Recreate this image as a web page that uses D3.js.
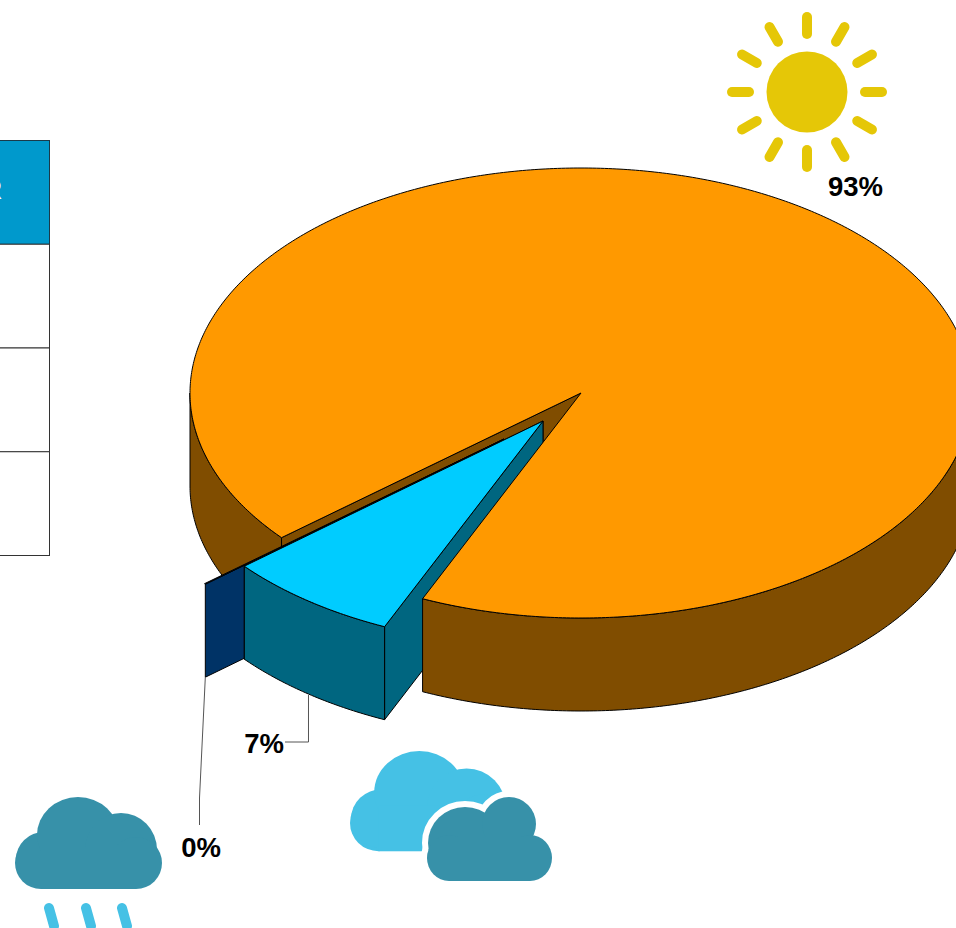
<!DOCTYPE html>
<html>
<head>
<meta charset="utf-8">
<script src="https://cdn.jsdelivr.net/npm/d3@7"></script>
<style>
  html, body { margin: 0; padding: 0; background: #fff; overflow: hidden; }
  svg { display: block; }
  text { font-family: "Liberation Sans", Arial, sans-serif; }
</style>
</head>
<body>
<div id="chart"></div>
<script>
// values, the labels round them
const categories = ["Partly cloudy", "Rainy", "Sunny"];
const shares = [7.2, 0.05, 92.8];
const tableHeader = "WEATHER";
const tableRows = ["", "", ""];

const width = 956;
const height = 928;

const topColors = ["#00ccff", "#003366", "#ff9900"];
const sideColors = ["#006680", "#003366", "#804d00"];

// pie centre, radii and depth of the extrusion
const cx = 581;
const cy = 393;
const rx = 391;
const ry = 225;
const depth = 93;

// how far each slice was pulled out of the pie
const explode = [
  { dx: -38, dy: 28 },
  { dx: -77, dy: 46 },
  { dx: 0, dy: 0 },
];

const x = d3.scaleLinear().domain([-1, 1]).range([cx - rx, cx + rx]);
const y = d3.scaleLinear().domain([-1, 1]).range([cy - ry, cy + ry]);

const svg = d3
  .select("#chart")
  .append("svg")
  .attr("width", width)
  .attr("height", height);

const startAngle = (203.9 * Math.PI) / 180;
const slices = d3
  .pie()
  .sort(null)
  .startAngle(startAngle)
  .endAngle(startAngle + 2 * Math.PI)(shares);

const line = d3.line();

// point on the rim of slice i, z is the drop below the top face
function rim(i, angle, z = 0) {
  return [
    x(Math.sin(angle)) + explode[i].dx,
    y(-Math.cos(angle)) + explode[i].dy + z,
  ];
}

function arcPoints(i, a0, a1, z = 0) {
  const n = Math.max(2, Math.ceil(Math.abs(a1 - a0) / 0.01));
  return d3.range(n + 1).map((k) => rim(i, a0 + ((a1 - a0) * k) / n, z));
}

function centre(i, z = 0) {
  return [x(0) + explode[i].dx, y(0) + explode[i].dy + z];
}

function drawShape(points, fill) {
  svg
    .append("path")
    .attr("d", line(points) + "Z")
    .attr("fill", fill)
    .attr("stroke", "#000")
    .attr("stroke-width", 1)
    .attr("stroke-linejoin", "round");
}

function outerWall(i, a0, a1) {
  const pts = arcPoints(i, a0, a1).concat(arcPoints(i, a1, a0, depth));
  drawShape(pts, sideColors[i]);
}

function radialWall(i, a) {
  drawShape(
    [centre(i), rim(i, a), rim(i, a, depth), centre(i, depth)],
    sideColors[i]
  );
}

function topFace(i) {
  const s = slices[i];
  drawShape(
    [centre(i)].concat(arcPoints(i, s.startAngle, s.endAngle)),
    topColors[i]
  );
}

// table, mostly off the left edge of the page
const rowHeight = 103.75;
const table = svg.append("g");
const rowY = d3
  .scaleLinear()
  .domain([0, tableRows.length + 1])
  .range([140.5, 140.5 + rowHeight * (tableRows.length + 1)]);

table
  .append("rect")
  .attr("x", -200)
  .attr("y", rowY(0))
  .attr("width", 249.5)
  .attr("height", rowHeight)
  .attr("fill", "#0099cc")
  .attr("stroke", "#1a3a4a")
  .attr("stroke-width", 1);

table
  .append("text")
  .attr("x", 2)
  .attr("y", rowY(0) + 58)
  .attr("text-anchor", "end")
  .attr("fill", "#fff")
  .attr("font-size", 28)
  .attr("font-weight", "bold")
  .text(tableHeader);

table
  .selectAll("rect.row")
  .data(tableRows)
  .enter()
  .append("rect")
  .attr("class", "row")
  .attr("x", -200)
  .attr("y", (d, i) => rowY(i + 1))
  .attr("width", 249.5)
  .attr("height", rowHeight)
  .attr("fill", "#fff")
  .attr("stroke", "#333")
  .attr("stroke-width", 1);

// painter's order, back to front
const [cloudy, rainy, sunny] = slices;
const sunnyEnd = sunny.endAngle;

outerWall(2, sunny.startAngle, (3 * Math.PI) / 2);
radialWall(2, sunny.startAngle);

radialWall(1, rainy.startAngle);
topFace(1);

radialWall(0, cloudy.endAngle);
radialWall(0, cloudy.startAngle);
outerWall(0, cloudy.startAngle, cloudy.endAngle);
topFace(0);

outerWall(2, Math.PI / 2, sunnyEnd - 2 * Math.PI);
topFace(2);

// leader lines
const leader = svg
  .append("g")
  .attr("fill", "none")
  .attr("stroke", "#555")
  .attr("stroke-width", 1);
const cloudyLeader = rim(0, (cloudy.startAngle + cloudy.endAngle) / 2, depth);
leader.append("path").attr(
  "d",
  line([
    [cloudyLeader[0], cloudyLeader[1] + 1],
    [cloudyLeader[0], 742],
    [285, 742],
  ])
);
const rainyLeader = rim(1, rainy.startAngle, depth);
leader.append("path").attr(
  "d",
  line([rainyLeader, [199.5, 798], [199.5, 825]])
);

// percent labels
const labelAt = [
  [264, 753],
  [201, 857],
  [855.5, 196],
];
svg
  .selectAll("text.pct")
  .data(slices)
  .enter()
  .append("text")
  .attr("class", "pct")
  .attr("x", (d, i) => labelAt[i][0])
  .attr("y", (d, i) => labelAt[i][1])
  .attr("text-anchor", "middle")
  .attr("font-size", 27.5)
  .attr("font-weight", "bold")
  .attr("fill", "#000")
  .text((d) => d3.format(".0f")(d.value) + "%");

// weather icons: lobes are [cx, cy, rx, ry] in the icon's own box, base is [x, y, w, h]
const backLobes = [
  [26, 66, 26, 26],
  [29, 62, 28, 27],
  [63, 38, 41, 38],
  [106, 53, 36, 37],
  [121, 66, 26, 26],
];
const backBase = [26, 50, 95, 42];
const frontLobes = [
  [38, 46, 37, 36],
  [82, 27, 27, 27],
  [22, 61, 22, 23],
  [103, 61, 22, 23],
];
const frontBase = [22, 40, 81, 44];

function cloud(tx, ty, sx, sy, lobes, base, fill, halo) {
  const g = svg
    .append("g")
    .attr("transform", `translate(${tx},${ty}) scale(${sx},${sy})`);
  const draw = (sel) => {
    lobes.forEach((l) => {
      sel
        .append("ellipse")
        .attr("cx", l[0])
        .attr("cy", l[1])
        .attr("rx", l[2])
        .attr("ry", l[3]);
    });
    sel
      .append("rect")
      .attr("x", base[0])
      .attr("y", base[1])
      .attr("width", base[2])
      .attr("height", base[3]);
  };
  if (halo) {
    draw(g.append("g").attr("fill", "#fff").attr("stroke", "#fff").attr("stroke-width", halo));
  }
  draw(g.append("g").attr("fill", fill));
}

// sun
const sun = svg.append("g").attr("transform", "translate(807,92)");
sun.append("circle").attr("r", 40.5).attr("fill", "#e5c707");
sun
  .selectAll("line")
  .data(d3.range(12))
  .enter()
  .append("line")
  .attr("x1", (d) => 58 * Math.sin((d * Math.PI) / 6))
  .attr("y1", (d) => -58 * Math.cos((d * Math.PI) / 6))
  .attr("x2", (d) => 75 * Math.sin((d * Math.PI) / 6))
  .attr("y2", (d) => -75 * Math.cos((d * Math.PI) / 6))
  .attr("stroke", "#e5c707")
  .attr("stroke-width", 10)
  .attr("stroke-linecap", "round");

// rain cloud
cloud(15, 797, 1, 1, backLobes, backBase, "#3791a9");
svg
  .append("g")
  .attr("stroke", "#45c1e5")
  .attr("stroke-width", 10)
  .attr("stroke-linecap", "round")
  .selectAll("line")
  .data([49, 86, 122])
  .enter()
  .append("line")
  .attr("x1", (d) => d)
  .attr("y1", 908)
  .attr("x2", (d) => d + 5)
  .attr("y2", 926);

// partly cloudy: light cloud behind, dark one in front with a white gap
cloud(350, 751, 1.1, 1.09, backLobes, backBase, "#45c1e5");
cloud(427, 797, 1, 1, frontLobes, frontBase, "#3791a9", 12);
</script>
</body>
</html>
